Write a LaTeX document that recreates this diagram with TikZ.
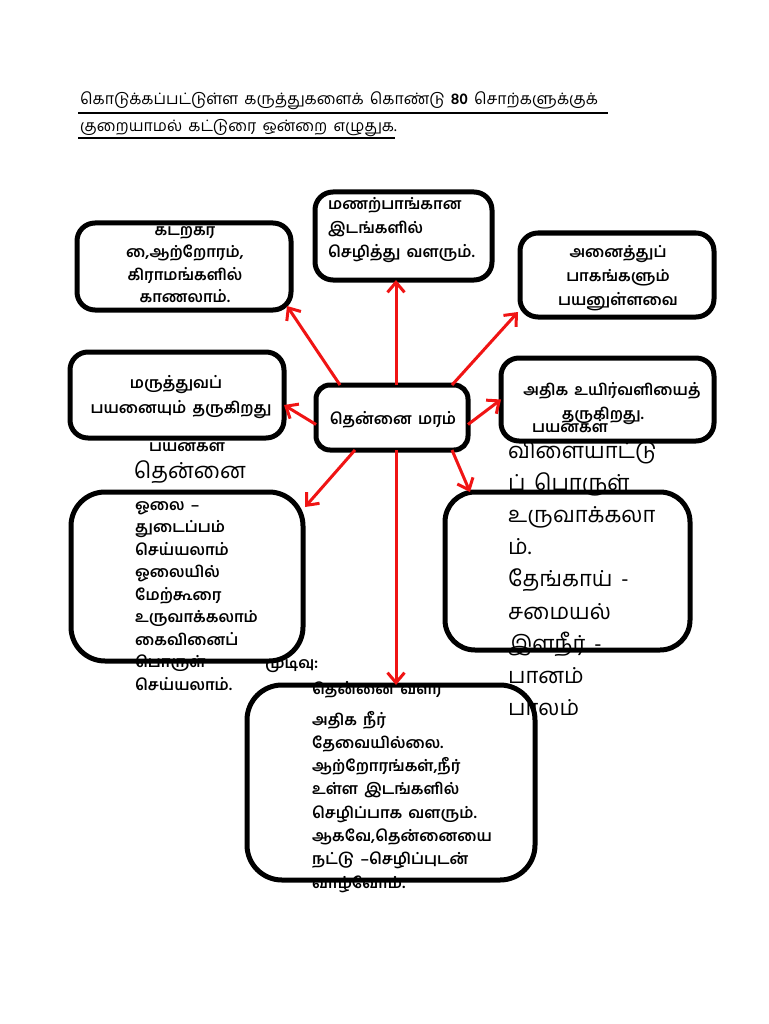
\documentclass[tikz,border=0pt]{standalone}
\usepackage{fontspec}
\usetikzlibrary{arrows.meta}
\newfontfamily\tamil[Script=Tamil,WordSpace=1.6]{Hind Madurai}
\definecolor{arrred}{RGB}{240,20,20}
\tikzset{
  box/.style={draw=black, line width=5pt, inner sep=0pt, outer sep=0pt},
  sm/.style={font=\tamil\bfseries\fontsize{15.5}{17}\selectfont, inner sep=0pt},
  lg/.style={font=\tamil\fontsize{22}{26}\selectfont, inner sep=0pt},
  hd/.style={font=\tamil\fontsize{15.8}{18}\selectfont, inner sep=0pt, anchor=base west},
  arr/.style={draw=arrred, line width=3pt, -{Straight Barb[length=10pt,width=17pt]}},
  uline/.style={draw=black, line width=1.3pt},
}
\begin{document}
\begin{tikzpicture}[x=1pt,y=-1pt]
\useasboundingbox[fill=white] (0,0) rectangle (768,1024);
% heading
\node[hd] (h1) at (80,105) {கொடுக்கப்பட்டுள்ள கருத்துகளைக் கொண்டு {\bfseries 80} சொற்களுக்குக்};
\node[hd] (h2) at (80,132) {குறையாமல் கட்டுரை ஒன்றை எழுதுக.};
\draw[uline] (78,113) -- (608,113);
\draw[uline] (78,138) -- (395,138);
% texts
\foreach \t [count=\i from 0] in {கடற்கர,{\XeTeXglyph\XeTeXcharglyph"0BC8\relax,ஆற்றோரம்,},கிராமங்களில்,காணலாம்.}
  \node[sm, anchor=base] (tlt\i) at (185,236+22*\i) {\t};
\foreach \t [count=\i from 0] in {மணற்பாங்கான,இடங்களில்,செழித்து வளரும்.}
  \node[sm, anchor=base west] (tmt\i) at (328,210+23.5*\i) {\t};
\foreach \t [count=\i from 0] in {அனைத்துப்,பாகங்களும்,பயனுள்ளவை}
  \node[sm, anchor=base] (trt\i) at (618,258+23.5*\i) {\t};
\node[sm, anchor=base] (rmt0) at (612,395) {அதிக உயிர்வளியைத்};
\node[sm, anchor=base] (rmt1) at (603,419) {தருகிறது.};
\node[sm, anchor=base] (rmt2) at (570,432) {பயன்கள்};
\node[sm, anchor=base] (lmt0) at (176,388) {மருத்துவப்};
\node[sm, anchor=base] (lmt1) at (181,413) {பயனையும் தருகிறது};
\node[sm, anchor=base] (lmt2) at (187,451) {பயன்கள்};
\node[lg, anchor=base] (lmt3) at (190,478) {தென்னை};
\node[sm, anchor=base] (ct) at (393,424) {தென்னை மரம்};
\foreach \t [count=\i from 0] in {ஓலை –,துடைப்பம்,செய்யலாம்,ஓலையில்,மேற்கூரை,உருவாக்கலாம்,கைவினைப்,பொருள்,செய்யலாம்.}
  \node[sm, anchor=base west] (lbt\i) at (135,510+22.5*\i) {\t};
\node[sm, anchor=base west] (mud) at (265,668) {முடிவு:};
\foreach \t [count=\i from 0] in {விளையாட்டு,ப் பொருள்,உருவாக்கலா,ம்.,தேங்காய் -,சமையல்,இளநீர் -,பானம்,பாலம்}
  \node[lg, anchor=base west] (rbt\i) at (508,458+32.2*\i) {\t};
\node[sm, anchor=base west] (btt) at (312,694) {தென்னை வளர};
\foreach \t [count=\i from 0] in {அதிக நீர்,தேவையில்லை.,{ஆற்றோரங்கள்,நீர்},உள்ள இடங்களில்,செழிப்பாக வளரும்.,{ஆகவே,தென்னையை},நட்டு –செழிப்புடன்,வாழ்வோம்.}
  \node[sm, anchor=base west] (btt\i) at (312,725+23.3*\i) {\t};
% boxes
\node[box, rounded corners=18pt, minimum width=214pt, minimum height=87pt] (tl) at (184,266.5) {};
\node[box, rounded corners=18pt, minimum width=177pt, minimum height=88pt] (tm) at (403.5,236) {};
\node[box, rounded corners=18pt, minimum width=194pt, minimum height=84pt] (tr) at (617,275) {};
\node[box, rounded corners=18pt, minimum width=214pt, minimum height=86pt] (lm) at (177,395) {};
\node[box, rounded corners=18pt, minimum width=213pt, minimum height=83pt] (rm) at (607.5,399.5) {};
\node[box, rounded corners=14pt, minimum width=152pt, minimum height=65pt] (c) at (392,417.5) {};
\node[box, rounded corners=34pt, minimum width=232pt, minimum height=169pt] (lb) at (187,576.5) {};
\node[box, rounded corners=30pt, minimum width=245pt, minimum height=158pt] (rb) at (567.5,571) {};
\node[box, rounded corners=35pt, minimum width=288pt, minimum height=195pt] (bt) at (391,782.5) {};
% arrows
\draw[arr] ([xshift=4pt]c.north) -- ([xshift=4pt]c.north |- tm.south);
\draw[arr] ([xshift=-52pt]c.north) -- ([shift={(-4pt,4pt)}]tl.south east);
\draw[arr] ([xshift=60pt]c.north) -- ([shift={(-2pt,5pt)}]tr.south west);
\draw[arr] ([yshift=-7pt]c.west) -- ([yshift=-10pt]lm.east);
\draw[arr] ([yshift=-7pt]c.east) -- (rm.west);
\draw[arr] ([xshift=-37pt]c.south) -- ([shift={(2pt,-15pt)}]lb.north east);
\draw[arr] ([xshift=4pt]c.south) -- ([xshift=4pt]c.south |- bt.north);
\draw[arr] ([xshift=60pt]c.south) -- ([xshift=25pt]rb.north west);
\end{tikzpicture}
\end{document}
